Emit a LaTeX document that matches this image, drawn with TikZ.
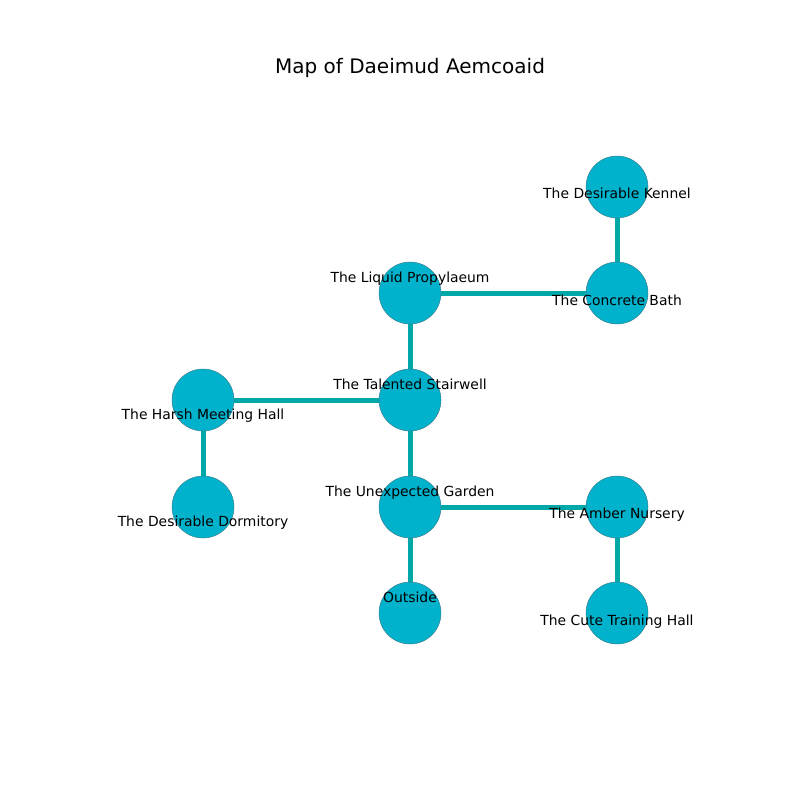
\documentclass[tikz,border=0pt]{standalone}
\usepackage{fontspec}
\setmainfont{DejaVu Sans}
\definecolor{nodefill}{HTML}{00B2CC}
\definecolor{nodeline}{HTML}{3A8090}
\definecolor{edgecol}{HTML}{00A8A8}
\begin{document}
\begin{tikzpicture}[x=1pt,y=-1pt,
  room/.style={circle,fill=nodefill,draw=nodeline,line width=0.5pt,minimum size=62pt,inner sep=0pt},
  lbl/.style={font=\fontsize{13.9}{16}\selectfont,text=black,inner sep=0pt,anchor=base},
  corridor/.style={draw=edgecol,line width=5pt}]
\useasboundingbox (0,0) rectangle (800,800);
\node[font=\fontsize{20}{24}\selectfont,inner sep=0pt,anchor=base] (title) at (410,74) {Map of Daeimud Aemcoaid};
\coordinate (kennel) at (617,187);
\coordinate (bath) at (617,293);
\coordinate (prop) at (410,293);
\coordinate (stair) at (410,400);
\coordinate (harsh) at (203,400);
\coordinate (dorm) at (203,507);
\coordinate (garden) at (410,507);
\coordinate (amber) at (617,507);
\coordinate (outside) at (410,613);
\coordinate (cute) at (617,613);
\draw[corridor] (kennel) -- (bath);
\draw[corridor] (prop) -- (bath);
\draw[corridor] (prop) -- (stair);
\draw[corridor] (harsh) -- (stair);
\draw[corridor] (harsh) -- (dorm);
\draw[corridor] (stair) -- (garden);
\draw[corridor] (garden) -- (amber);
\draw[corridor] (garden) -- (outside);
\draw[corridor] (amber) -- (cute);
\foreach \n in {kennel,bath,prop,stair,harsh,dorm,garden,amber,outside,cute}
  \node[room] (c\n) at (\n) {};
\node[lbl] (lkennel) at (617,198) {The Desirable Kennel};
\node[lbl] (lbath) at (617,305) {The Concrete Bath};
\node[lbl] (lprop) at (410,282) {The Liquid Propylaeum};
\node[lbl] (lstair) at (410,389) {The Talented Stairwell};
\node[lbl] (lharsh) at (203,419) {The Harsh Meeting Hall};
\node[lbl] (ldorm) at (203,526) {The Desirable Dormitory};
\node[lbl] (lgarden) at (410,496) {The Unexpected Garden};
\node[lbl] (lamber) at (617,518) {The Amber Nursery};
\node[lbl] (loutside) at (410,602) {Outside};
\node[lbl] (lcute) at (617,625) {The Cute Training Hall};
\end{tikzpicture}
\end{document}
